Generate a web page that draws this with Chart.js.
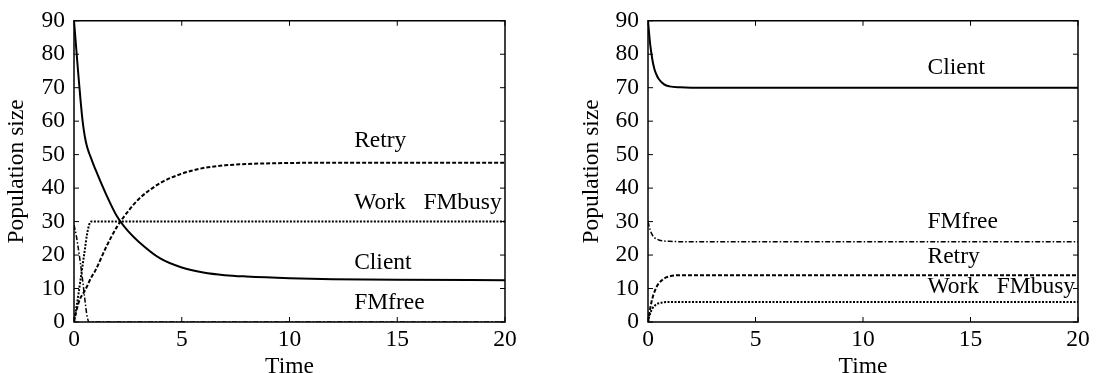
<!DOCTYPE html>
<html>
<head>
<meta charset="utf-8">
<script src="https://cdn.jsdelivr.net/npm/chart.js@4.4.0/dist/chart.umd.min.js"></script>
<style>
  html, body { margin: 0; padding: 0; background: #fff; }
  #wrap { position: relative; width: 1096px; height: 373px; }
  .box { position: absolute; top: 0; height: 373px; }
</style>
</head>
<body>
<div id="wrap">
  <div class="box" style="left:0; width:548px;"><canvas id="leftChart"></canvas></div>
  <div class="box" style="left:548px; width:548px;"><canvas id="rightChart"></canvas></div>
</div>
<script>
// left panel
const timeLeft = [0, 0.1, 0.2, 0.3, 0.4, 0.5, 0.6, 0.7, 0.8, 1, 1.5, 2, 2.5, 3, 4, 5, 6, 7, 8, 10, 12, 15, 20];
const clientLeft = [90, 82, 74, 66.5, 60, 55.5, 52.5, 50.5, 48.8, 45.5, 38, 31.5, 27.2, 24, 19, 16.3, 14.8, 14, 13.6, 13.1, 12.8, 12.6, 12.5];
const retryLeft = [0, 3, 5.5, 7.2, 8.3, 9.3, 10.6, 12, 13.3, 15.5, 22.5, 28.5, 33, 36.7, 41.5, 44.3, 46, 46.8, 47.2, 47.5, 47.6, 47.6, 47.6];
const workLeft = [0, 4, 8, 12.5, 17, 21.5, 26, 29, 30, 30, 30, 30, 30, 30, 30, 30, 30, 30, 30, 30, 30, 30, 30];
const fmfreeLeft = [29, 26, 22, 17.5, 12.5, 7, 2, 0, 0, 0, 0, 0, 0, 0, 0, 0, 0, 0, 0, 0, 0, 0, 0];

// right panel
const timeRight = [0, 0.1, 0.2, 0.3, 0.4, 0.5, 0.75, 1, 1.5, 2, 3, 5, 10, 15, 20];
const clientRight = [90, 83, 78.5, 75.5, 73.8, 72.6, 71, 70.4, 70.1, 70, 70, 70, 70, 70, 70];
const fmfreeRight = [30, 27.5, 26, 25.2, 24.8, 24.5, 24.2, 24.1, 24, 24, 24, 24, 24, 24, 24];
const retryRight = [0, 4, 7, 9, 10.5, 11.5, 13, 13.6, 14, 14, 14, 14, 14, 14, 14];
const workRight = [0, 2.5, 4, 4.8, 5.3, 5.6, 5.9, 6, 6, 6, 6, 6, 6, 6, 6];

const xTicks = [0, 5, 10, 15, 20];
const yTicks = [0, 10, 20, 30, 40, 50, 60, 70, 80, 90];

// curve labels: [text, x, y] in data units
const labelsLeft = [['Retry', 13.0, 54], ['Work   FMbusy', 13.0, 35.6], ['Client', 13.0, 17.8], ['FMfree', 13.0, 5.6]];
const labelsRight = [['Client', 13.0, 75.8], ['FMfree', 13.0, 29.8], ['Retry', 13.0, 19.4], ['Work   FMbusy', 13.0, 10.5]];

const FONT = 'Liberation Serif, Times New Roman, serif';
const FSIZE = 23.5;

function pts(xs, ys) {
    return xs.map((x, i) => ({ x: x, y: ys[i] }));
}

function lineSet(xs, ys, dash, width) {
    return {
        data: pts(xs, ys),
        borderColor: '#000',
        borderWidth: width,
        borderDash: dash,
        pointRadius: 0,
        fill: false,
        cubicInterpolationMode: 'monotone'
    };
}

// frame, inward ticks and curve labels
const framePlugin = {
    id: 'frame',
    afterDatasetsDraw(chart, args, opts) {
        const ctx = chart.ctx;
        const a = chart.chartArea;
        const xs = chart.scales.x, ys = chart.scales.y;
        ctx.save();
        ctx.strokeStyle = '#000';
        ctx.lineWidth = 1.5;
        ctx.strokeRect(a.left, a.top, a.right - a.left, a.bottom - a.top);
        ctx.lineWidth = 1;
        ctx.beginPath();
        xTicks.forEach(v => {
            const px = xs.getPixelForValue(v);
            ctx.moveTo(px, a.bottom); ctx.lineTo(px, a.bottom - 5);
            ctx.moveTo(px, a.top); ctx.lineTo(px, a.top + 5);
        });
        yTicks.forEach(v => {
            const py = ys.getPixelForValue(v);
            ctx.moveTo(a.left, py); ctx.lineTo(a.left + 5, py);
            ctx.moveTo(a.right, py); ctx.lineTo(a.right - 5, py);
        });
        ctx.stroke();
        ctx.fillStyle = '#000';
        ctx.font = FSIZE + 'px ' + FONT;
        ctx.textBaseline = 'middle';
        ctx.textAlign = 'left';
        (opts.labels || []).forEach(l => {
            ctx.fillText(l[0], xs.getPixelForValue(l[1]), ys.getPixelForValue(l[2]));
        });
        ctx.restore();
    }
};

function makeChart(id, datasets, labels, yWidth, padLeft, padRight) {
    return new Chart(document.getElementById(id), {
        type: 'line',
        data: { datasets: datasets },
        options: {
            responsive: false,
            animation: false,
            layout: { padding: { left: padLeft, right: padRight, top: 19, bottom: 0 } },
            plugins: {
                legend: { display: false },
                tooltip: { enabled: false },
                frame: { labels: labels }
            },
            scales: {
                x: {
                    type: 'linear', min: 0, max: 20,
                    afterBuildTicks: s => { s.ticks = xTicks.map(v => ({ value: v })); },
                    afterFit: s => { s.height = 51; },
                    grid: { display: false, drawTicks: false },
                    border: { display: false },
                    ticks: { color: '#000', font: { family: FONT, size: FSIZE, lineHeight: 1 }, padding: 6, maxRotation: 0 },
                    title: { display: true, text: 'Time', color: '#000', font: { family: FONT, size: FSIZE, lineHeight: 0.55 }, padding: { top: 0, bottom: 0 } }
                },
                y: {
                    min: 0, max: 90,
                    afterBuildTicks: s => { s.ticks = yTicks.map(v => ({ value: v })); },
                    afterFit: s => { s.width = yWidth; },
                    grid: { display: false, drawTicks: false },
                    border: { display: false },
                    ticks: { color: '#000', font: { family: FONT, size: FSIZE, lineHeight: 1 }, padding: 9 },
                    title: { display: true, text: 'Population size', color: '#000', font: { family: FONT, size: FSIZE, lineHeight: 1 }, padding: { top: 0, bottom: 0 } }
                }
            }
        },
        plugins: [framePlugin]
    });
}

document.getElementById('leftChart').width = 548;
document.getElementById('leftChart').height = 373;
document.getElementById('rightChart').width = 548;
document.getElementById('rightChart').height = 373;

makeChart('leftChart', [
    lineSet(timeLeft, clientLeft, [], 2),
    lineSet(timeLeft, retryLeft, [4, 2], 2),
    lineSet(timeLeft, workLeft, [2, 1.5], 2),
    lineSet(timeLeft, fmfreeLeft, [5, 2, 1.5, 2], 1.5)
], labelsLeft, 69, 5, 43);

makeChart('rightChart', [
    lineSet(timeRight, clientRight, [], 2),
    lineSet(timeRight, fmfreeRight, [5, 2, 1.5, 2], 1.5),
    lineSet(timeRight, retryRight, [4, 2], 2),
    lineSet(timeRight, workRight, [2, 1.5], 2)
], labelsRight, 68, 32, 18);
</script>
</body>
</html>
